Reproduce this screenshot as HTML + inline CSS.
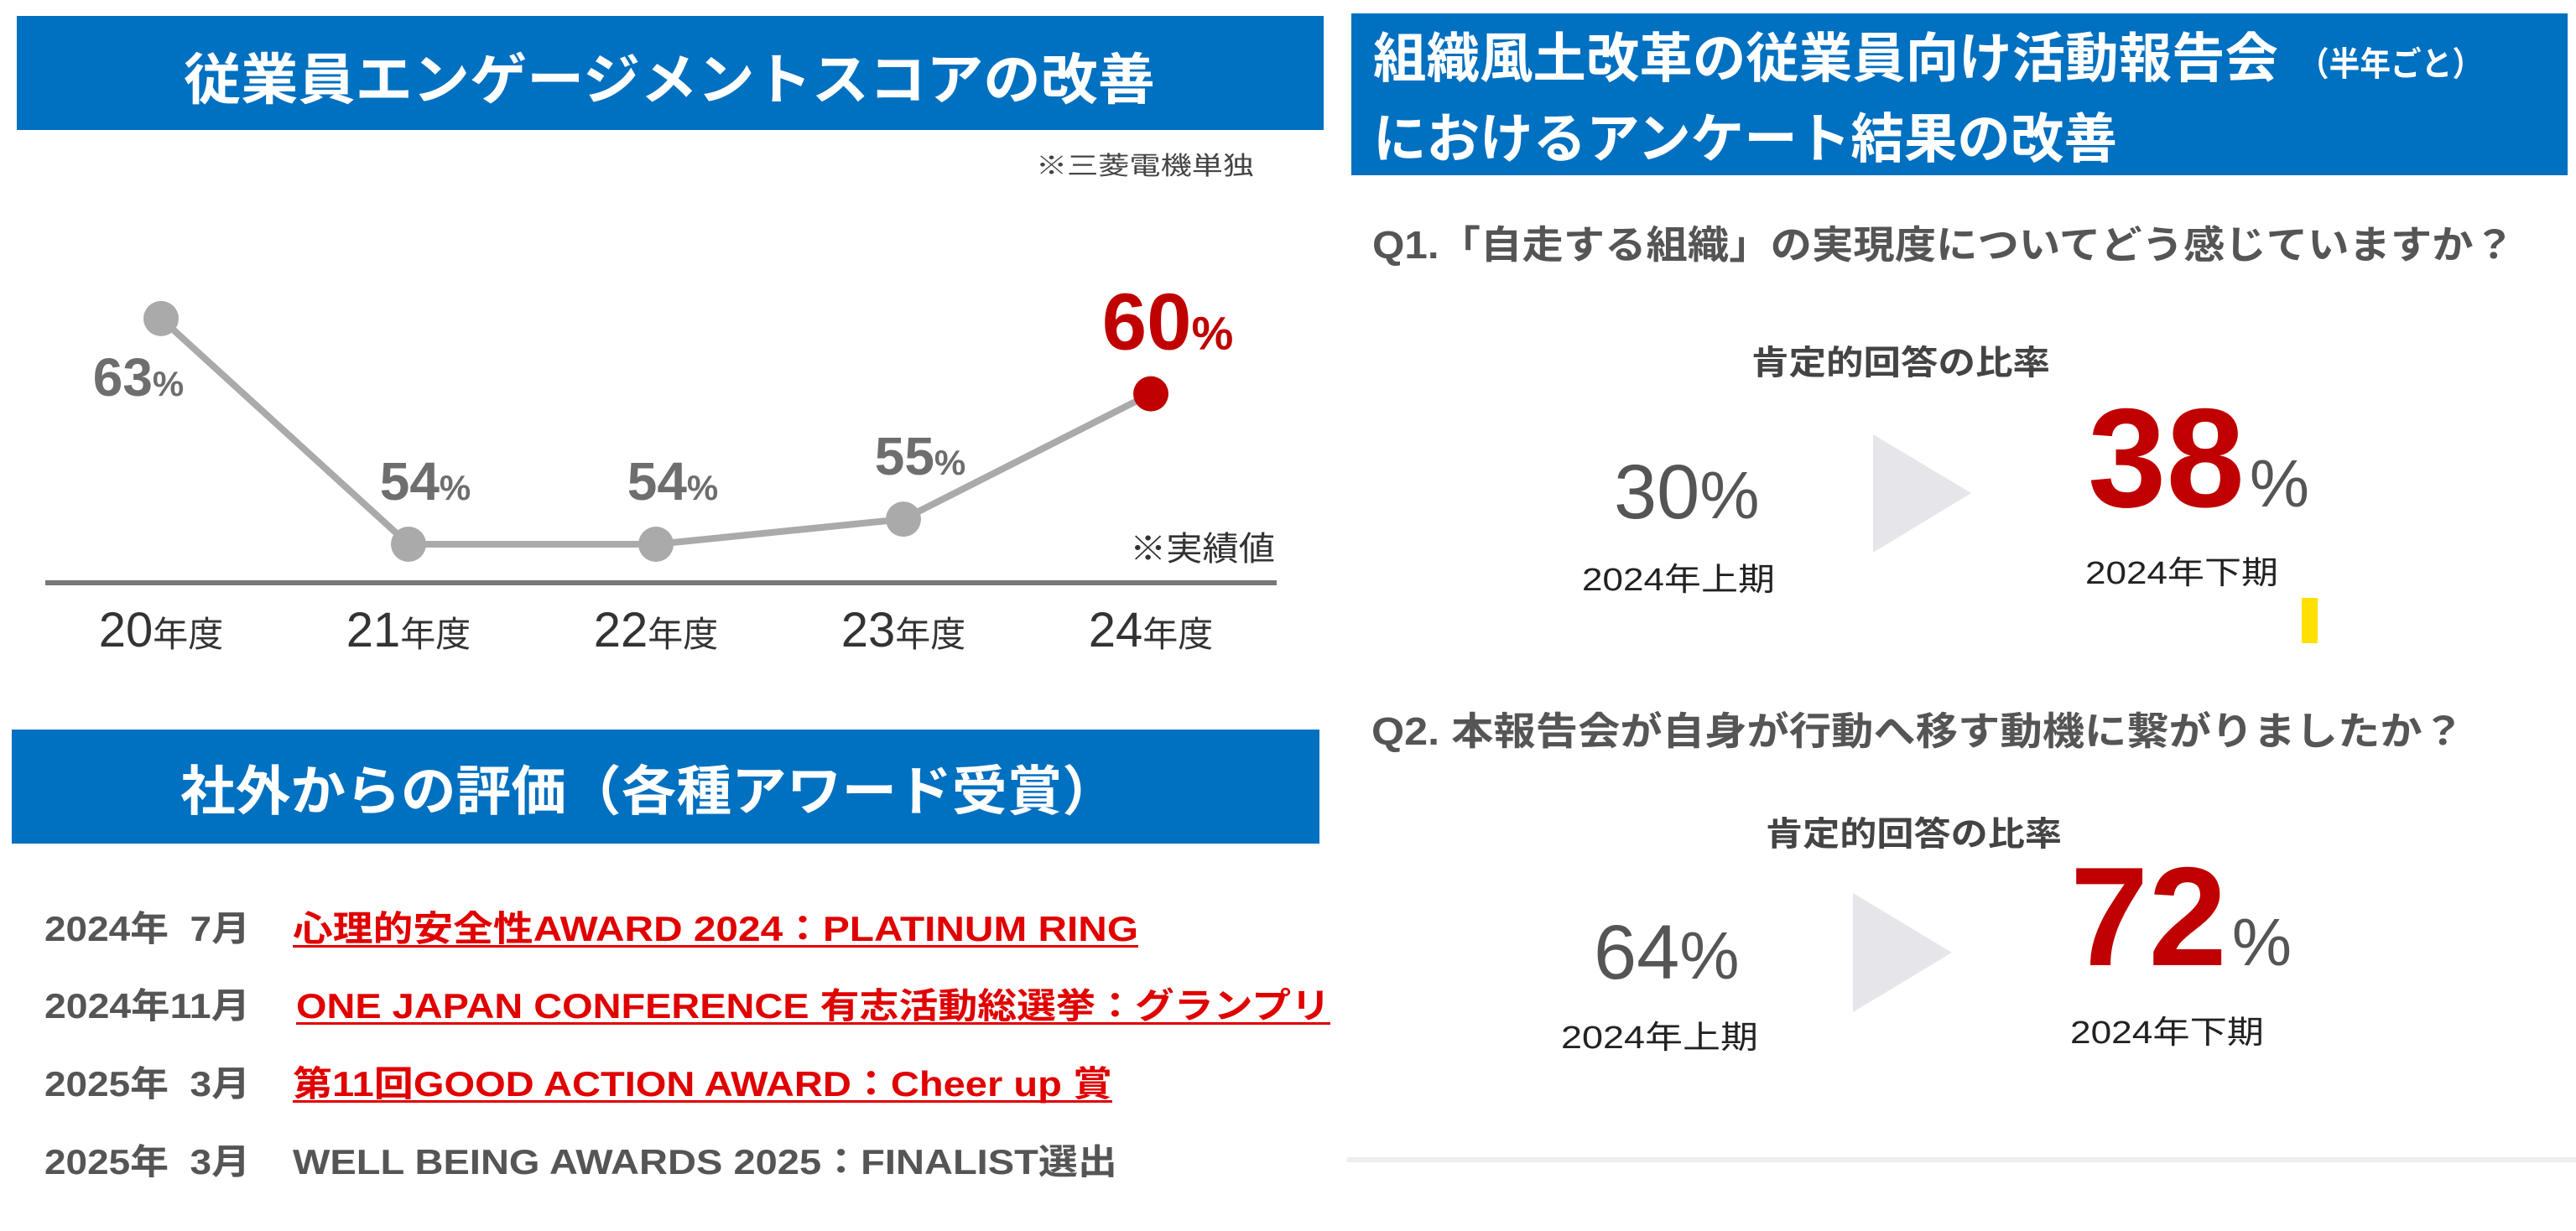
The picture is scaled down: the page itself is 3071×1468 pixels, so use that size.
<!DOCTYPE html>
<html><head><meta charset="utf-8">
<style>
html,body{margin:0;padding:0;background:#fff;}
svg{display:block;}
text{font-family:"Liberation Sans","Noto Sans CJK JP",sans-serif;}
</style></head>
<body>
<svg id="page" width="3071" height="1468" viewBox="0 0 3071 1468">
  <!-- Left header -->
  <rect x="20" y="19" width="1558" height="136" fill="#0070c0"/>
  <text x="219" y="118" font-size="66" font-weight="bold" fill="#fff" textLength="1158" lengthAdjust="spacingAndGlyphs">従業員エンゲージメントスコアの改善</text>
  <text x="1235" y="208" font-size="30" fill="#444" textLength="260" lengthAdjust="spacingAndGlyphs">※三菱電機単独</text>

  <g id="chart"></g>
  <line x1="54" y1="695" x2="1522" y2="695" stroke="#777" stroke-width="6"/>
  <text x="1347" y="668" font-size="40" fill="#333" textLength="173" lengthAdjust="spacingAndGlyphs">※実績値</text>

  <!-- Awards header -->
  <rect x="14" y="870" width="1559" height="136" fill="#0070c0"/>
  <text x="215" y="966" font-size="64" font-weight="bold" fill="#fff" textLength="1117" lengthAdjust="spacingAndGlyphs">社外からの評価（各種アワード受賞）</text>

  <g font-size="42" font-weight="bold">
    <text x="53" y="1122" fill="#555" textLength="245" lengthAdjust="spacingAndGlyphs">2024年&#160;&#160;7月</text>
    <text x="349" y="1122" fill="#e00000" textLength="1008" lengthAdjust="spacingAndGlyphs">心理的安全性AWARD 2024：PLATINUM RING</text>
    <rect x="349" y="1127" width="1008" height="3" fill="#e00000"/>
    <text x="53" y="1214" fill="#555" textLength="245" lengthAdjust="spacingAndGlyphs">2024年11月</text>
    <text x="353" y="1214" fill="#e00000" textLength="1233" lengthAdjust="spacingAndGlyphs">ONE JAPAN CONFERENCE 有志活動総選挙：グランプリ</text>
    <rect x="353" y="1219" width="1233" height="3" fill="#e00000"/>
    <text x="53" y="1307" fill="#555" textLength="245" lengthAdjust="spacingAndGlyphs">2025年&#160;&#160;3月</text>
    <text x="349" y="1307" fill="#e00000" textLength="977" lengthAdjust="spacingAndGlyphs">第11回GOOD ACTION AWARD：Cheer up 賞</text>
    <rect x="349" y="1312" width="977" height="3" fill="#e00000"/>
    <text x="53" y="1400" fill="#555" textLength="245" lengthAdjust="spacingAndGlyphs">2025年&#160;&#160;3月</text>
    <text x="349" y="1400" fill="#555" textLength="983" lengthAdjust="spacingAndGlyphs">WELL BEING AWARDS 2025：FINALIST選出</text>
  </g>

  <!-- Right header -->
  <rect x="1611" y="16" width="1450" height="193" fill="#0070c0"/>
  <text x="1637" y="92" font-size="64" font-weight="bold" fill="#fff" textLength="1079" lengthAdjust="spacingAndGlyphs">組織風土改革の従業員向け活動報告会</text>
  <text x="2740" y="90" font-size="40" font-weight="bold" fill="#fff" textLength="220" lengthAdjust="spacingAndGlyphs">（半年ごと）</text>
  <text x="1637" y="188" font-size="64" font-weight="bold" fill="#fff" textLength="887" lengthAdjust="spacingAndGlyphs">におけるアンケート結果の改善</text>

  <!-- Q1 -->
  <text x="1636" y="308" font-size="46" font-weight="bold" fill="#555" textLength="1362" lengthAdjust="spacingAndGlyphs">Q1.「自走する組織」の実現度についてどう感じていますか？</text>
  <text x="2088" y="446" font-size="40" font-weight="bold" fill="#444" textLength="356" lengthAdjust="spacingAndGlyphs">肯定的回答の比率</text>
  <text x="1924" y="618" font-size="92" fill="#555">30<tspan font-size="80">%</tspan></text>
  <polygon points="2233,518 2350,588 2233,659" fill="#e6e6ea"/>
  <text x="2489" y="604" font-size="168" font-weight="bold" fill="#c00000">38<tspan font-size="80" font-weight="normal" fill="#555" dx="6">%</tspan></text>
  <text x="1886" y="704" font-size="38" fill="#222" textLength="230" lengthAdjust="spacingAndGlyphs">2024年上期</text>
  <text x="2486" y="696" font-size="38" fill="#222" textLength="230" lengthAdjust="spacingAndGlyphs">2024年下期</text>
  <rect x="2744" y="713" width="19" height="54" fill="#ffe000"/>

  <!-- Q2 -->
  <text x="1635" y="888" font-size="46" font-weight="bold" fill="#555" textLength="1303" lengthAdjust="spacingAndGlyphs">Q2. 本報告会が自身が行動へ移す動機に繋がりましたか？</text>
  <text x="2105" y="1008" font-size="40" font-weight="bold" fill="#444" textLength="353" lengthAdjust="spacingAndGlyphs">肯定的回答の比率</text>
  <text x="1900" y="1167" font-size="92" fill="#555">64<tspan font-size="80">%</tspan></text>
  <polygon points="2209,1065 2327,1136 2209,1207" fill="#e6e6ea"/>
  <text x="2468" y="1151" font-size="168" font-weight="bold" fill="#c00000">72<tspan font-size="80" font-weight="normal" fill="#555" dx="6">%</tspan></text>
  <text x="1861" y="1250" font-size="38" fill="#222" textLength="235" lengthAdjust="spacingAndGlyphs">2024年上期</text>
  <text x="2468" y="1244" font-size="38" fill="#222" textLength="231" lengthAdjust="spacingAndGlyphs">2024年下期</text>
  <rect x="1606" y="1380" width="1465" height="6" fill="#eeeef0"/>
</svg>
<script>
const categories = ["20", "21", "22", "23", "24"];
const scores = [63, 54, 54, 55, 60];
const highlightIndex = 4;

const NS = "http://www.w3.org/2000/svg";
const g = document.getElementById("chart");
function xScale(i) { return 192 + i * 295; }
function yScale(v) { return 649 - (v - 54) * 29.9; }
function mk(tag, attrs) {
  const el = document.createElementNS(NS, tag);
  for (const k in attrs) el.setAttribute(k, attrs[k]);
  return el;
}
let pts = scores.map((v, i) => xScale(i) + "," + yScale(v)).join(" ");
const line = mk("polyline", {points: pts, fill: "none", stroke: "#aaa", "stroke-width": 8});


g.appendChild(line);
scores.forEach((v, i) => {
  const cx = xScale(i), cy = yScale(v);
  const hi = i === highlightIndex;
  const dot = mk("circle", {cx: cx, cy: cy, r: 21, fill: hi ? "#c00000" : "#aaa"});
  
  
  g.appendChild(dot);
  let lx, ly;
  if (i === 0) { lx = cx - 27; ly = cy + 92; }
  else { lx = cx + 20; ly = cy - 53; }
  const t = mk("text", {x: lx, y: ly, "text-anchor": "middle", "font-size": hi ? 96 : 64,
    "font-weight": "bold", fill: hi ? "#c00000" : "#6e6e6e"});
  t.textContent = v;
  const ts = mk("tspan", {"font-size": hi ? 56 : 42});
  ts.textContent = "%";
  t.appendChild(ts);
  
  
  g.appendChild(t);
  const xl = mk("text", {x: cx, y: 771, "text-anchor": "middle", "font-size": 58, fill: "#333"});
  xl.textContent = categories[i];
  const ts2 = mk("tspan", {"font-size": 42});
  ts2.textContent = "年度";
  xl.appendChild(ts2);
  
  
  g.appendChild(xl);
});
</script>
</body></html>
